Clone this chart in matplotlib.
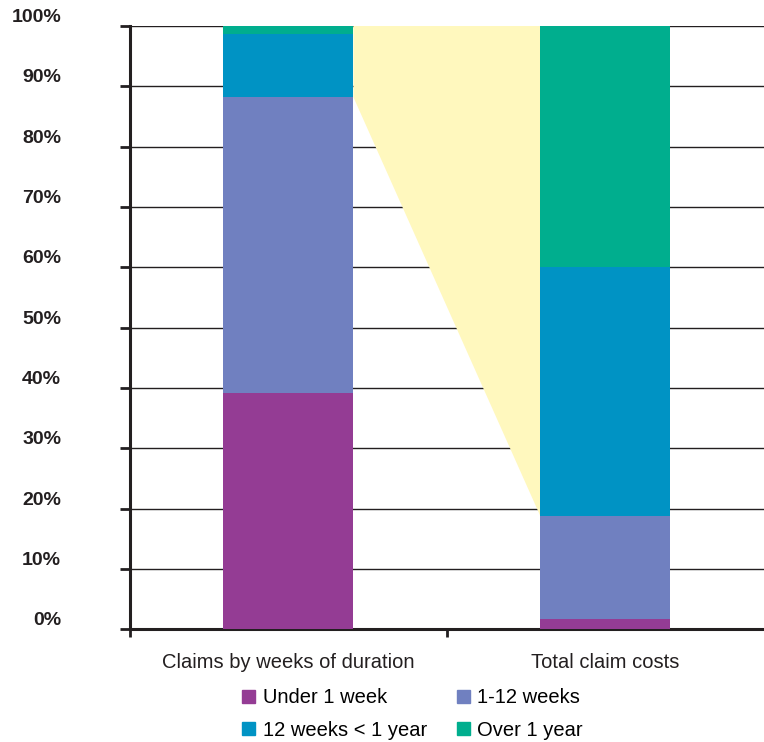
import matplotlib.pyplot as plt
from matplotlib.patches import Patch
import numpy as np

plt.rcParams['font.family'] = ['Liberation Sans', 'DejaVu Sans']

categories = ['Claims by weeks of duration', 'Total claim costs']
series = ['Under 1 week', '1-12 weeks', '12 weeks < 1 year', 'Over 1 year']
colors = ['#943c94', '#7080c0', '#0093c4', '#00ae8e']

# percent shares per bar
under_1_week = [39.1, 1.7]
weeks_1_12 = [49.1, 17.0]
weeks_12_1_year = [10.5, 41.3]
over_1_year = [1.3, 40.0]

values = np.array([under_1_week, weeks_1_12, weeks_12_1_year, over_1_year])
ink = '#231f20'
width = 0.41

fig = plt.figure(figsize=(7.64, 7.42), dpi=100)
ax = fig.add_axes([0.170, 0.152, 0.830, 0.813])

x = np.arange(len(categories))
bottoms = np.zeros(len(categories))
for vals, col, name in zip(values, colors, series):
    ax.bar(x, vals, width, bottom=bottoms, color=col, label=name, zorder=3)
    bottoms = bottoms + vals

# yellow band joining top of the "1-12 weeks" segments
tops = values[0] + values[1]
ax.fill([x[0] + width / 2, x[1] - width / 2, x[1] - width / 2, x[0] + width / 2],
        [100, 100, tops[1], tops[0]], color='#fff8be', lw=0, zorder=2)

ax.set_xlim(-0.5, 1.5)
ax.set_ylim(0, 100)
ax.set_yticks(np.arange(0, 101, 10))
ax.set_yticklabels([f'{v}%' for v in range(0, 101, 10)], fontsize=14, fontweight='bold', color=ink)
for lab in ax.get_yticklabels():
    lab.set_va('bottom')
ax.yaxis.grid(True, color=ink, lw=1.0, zorder=1)
ax.tick_params(axis='y', length=7, width=2, color=ink, pad=42.5)

ax.set_xticks(x)
ax.set_xticklabels(categories, fontsize=14.5, color=ink)
ax.tick_params(axis='x', which='major', length=0, pad=17)
ax.set_xticks([-0.5, 0.5], minor=True)
ax.tick_params(axis='x', which='minor', length=6, width=2, color=ink)

for side in ['top', 'right']:
    ax.spines[side].set_visible(False)
for side in ['left', 'bottom']:
    ax.spines[side].set_linewidth(2.2)
    ax.spines[side].set_color(ink)

handles = [Patch(color=c) for c in colors]
order = [0, 2, 1, 3]
fig.legend([handles[i] for i in order], [series[i] for i in order],
           loc='center', bbox_to_anchor=(0.540, 0.0377), ncol=2, frameon=False,
           fontsize=14.5, handlelength=0.65, handleheight=0.65, handletextpad=0.35,
           columnspacing=1.5, labelspacing=0.66, borderpad=0)

fig.savefig('out.png', dpi=100)
